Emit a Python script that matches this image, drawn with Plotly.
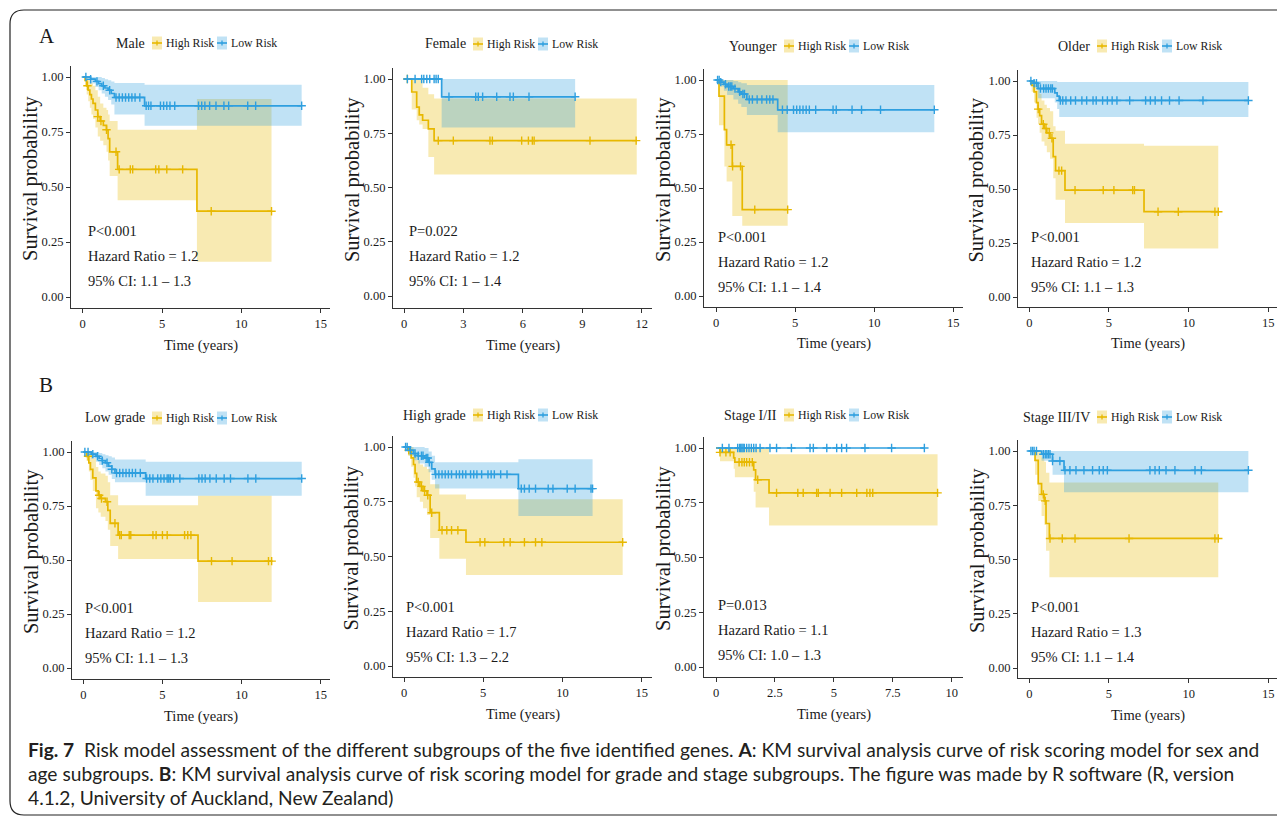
import numpy as np
import plotly.graph_objects as go

# ------------------------------------------------------------------ data
# Each KM curve: step times, survival after each step, CI upper/lower, end time, censor times
male_high_time = [0, 0.15, 0.25, 0.35, 0.45, 0.55, 0.65, 0.8, 0.95, 1.1, 1.3, 1.5, 1.6, 1.7, 2.2, 7.2]
male_high_surv = [1.0, 0.985, 0.96, 0.94, 0.92, 0.90, 0.88, 0.85, 0.82, 0.80, 0.78, 0.76, 0.72, 0.66, 0.58, 0.39]
male_high_upper = [1.0, 1.0, 1.0, 0.99, 0.98, 0.97, 0.96, 0.94, 0.91, 0.88, 0.86, 0.85, 0.83, 0.80, 0.76, 0.90]
male_high_lower = [1.0, 0.96, 0.92, 0.89, 0.86, 0.83, 0.81, 0.77, 0.73, 0.71, 0.69, 0.66, 0.62, 0.55, 0.44, 0.16]
male_high_end = 11.9
male_high_cens = [0.3, 0.95, 1.15, 1.5, 2.1, 2.3, 3.0, 3.15, 4.6, 4.8, 5.3, 6.3, 8.1, 11.9]

male_low_time = [0, 0.5, 0.8, 1.0, 1.2, 1.4, 1.6, 1.8, 2.0, 3.9]
male_low_surv = [1.0, 0.99, 0.98, 0.97, 0.96, 0.95, 0.94, 0.925, 0.907, 0.869]
male_low_upper = [1.0, 1.0, 1.0, 1.0, 0.995, 0.99, 0.985, 0.98, 0.973, 0.965]
male_low_lower = [1.0, 0.97, 0.955, 0.94, 0.925, 0.91, 0.895, 0.875, 0.83, 0.778]
male_low_end = 13.8
male_low_cens = [0.2, 0.5, 0.9, 1.3, 1.7, 2.1, 2.3, 2.5, 2.7, 2.9, 3.1, 3.3, 3.6, 4.0, 4.15, 4.3,
                 4.9, 5.1, 5.3, 5.5, 5.8, 7.3, 7.5, 7.7, 8.0, 8.4, 8.9, 9.2, 10.4, 10.9, 13.8]

female_high_time = [0, 0.39, 0.64, 0.77, 0.94, 1.23, 1.52]
female_high_surv = [1.0, 0.94, 0.87, 0.835, 0.81, 0.77, 0.716]
female_high_upper = [1.0, 1.0, 1.0, 1.0, 0.96, 0.93, 0.91]
female_high_lower = [1.0, 0.86, 0.81, 0.79, 0.77, 0.64, 0.56]
female_high_end = 11.75
female_high_cens = [0.17, 1.73, 2.49, 4.34, 4.46, 5.94, 6.28, 6.48, 6.57, 9.39, 11.72]

female_low_time = [0, 1.9]
female_low_surv = [1.0, 0.918]
female_low_upper = [1.0, 1.0]
female_low_lower = [1.0, 0.776]
female_low_end = 8.64
female_low_cens = [0.17, 0.56, 0.89, 1.0, 1.15, 1.3, 1.52, 1.62, 1.73, 2.27, 3.62, 3.75, 3.97,
                   4.68, 5.35, 5.52, 6.31, 8.64]

young_high_time = [0, 0.19, 0.53, 0.67, 1.03, 1.66]
young_high_surv = [1.0, 0.925, 0.77, 0.70, 0.60, 0.40]
young_high_upper = [1.0, 1.0, 1.0, 1.0, 1.0, 1.0]
young_high_lower = [1.0, 0.79, 0.60, 0.53, 0.37, 0.325]
young_high_end = 4.53
young_high_cens = [0.95, 1.05, 1.55, 2.45, 4.53]

young_low_time = [0, 0.3, 0.5, 0.7, 1.1, 1.4, 1.6, 1.95, 3.9]
young_low_surv = [1.0, 0.99, 0.98, 0.97, 0.96, 0.945, 0.935, 0.91, 0.862]
young_low_upper = [1.0, 1.0, 1.0, 1.0, 0.995, 0.99, 0.985, 0.977, 0.977]
young_low_lower = [1.0, 0.97, 0.95, 0.93, 0.91, 0.89, 0.875, 0.838, 0.758]
young_low_end = 13.8
young_low_cens = [0.1, 0.2, 0.3, 0.6, 0.8, 0.9, 1.0, 1.2, 1.5, 1.7, 1.8, 2.1, 2.3, 2.6, 2.9, 3.2,
                  3.4, 3.6, 4.2, 4.5, 4.9, 5.1, 5.3, 5.5, 5.7, 5.9, 6.3, 7.4, 7.6, 8.6, 9.2, 10.4, 13.8]

old_high_time = [0, 0.15, 0.3, 0.45, 0.55, 0.65, 0.77, 0.95, 1.1, 1.3, 1.5, 1.65, 2.24, 7.2]
old_high_surv = [1.0, 0.98, 0.95, 0.90, 0.87, 0.84, 0.80, 0.78, 0.76, 0.735, 0.65, 0.585, 0.495, 0.395]
old_high_upper = [1.0, 1.0, 1.0, 0.98, 0.96, 0.94, 0.91, 0.89, 0.875, 0.86, 0.79, 0.77, 0.71, 0.70]
old_high_lower = [1.0, 0.95, 0.90, 0.83, 0.80, 0.76, 0.72, 0.70, 0.67, 0.64, 0.55, 0.45, 0.343, 0.224]
old_high_end = 11.86
old_high_cens = [0.56, 0.88, 1.05, 1.25, 1.42, 1.86, 2.03, 2.87, 4.64, 5.31, 6.49, 6.6, 8.08, 9.35,
                 11.65, 11.86]

old_low_time = [0, 0.25, 0.55, 1.6, 1.75, 1.88]
old_low_surv = [1.0, 0.99, 0.965, 0.945, 0.93, 0.91]
old_low_upper = [1.0, 1.0, 1.0, 1.0, 0.995, 0.995]
old_low_lower = [1.0, 0.97, 0.92, 0.90, 0.87, 0.833]
old_low_end = 13.75
old_low_cens = [0.1, 0.3, 0.45, 0.7, 0.9, 1.05, 1.2, 1.35, 1.45, 1.95, 2.1, 2.3, 2.6, 2.9, 3.3,
                3.6, 4.0, 4.2, 4.6, 4.9, 5.2, 5.5, 6.3, 7.3, 7.6, 7.9, 8.3, 8.8, 9.4, 10.9, 13.75]

lowg_high_time = [0, 0.2, 0.35, 0.45, 0.6, 0.8, 0.95, 1.1, 1.4, 1.55, 1.7, 2.2, 7.25]
lowg_high_surv = [1.0, 0.98, 0.95, 0.92, 0.88, 0.82, 0.80, 0.785, 0.77, 0.73, 0.67, 0.615, 0.495]
lowg_high_upper = [1.0, 1.0, 1.0, 0.99, 0.97, 0.93, 0.91, 0.90, 0.89, 0.86, 0.80, 0.753, 0.798]
lowg_high_lower = [1.0, 0.96, 0.91, 0.87, 0.82, 0.74, 0.72, 0.70, 0.68, 0.64, 0.565, 0.505, 0.305]
lowg_high_end = 11.9
lowg_high_cens = [0.3, 1.0, 1.15, 1.5, 2.0, 2.3, 2.4, 2.9, 3.0, 4.4, 4.6, 5.0, 5.3, 6.4, 6.6, 6.8,
                  8.1, 9.4, 11.7, 11.9]

lowg_low_time = [0, 0.5, 0.8, 1.0, 1.2, 1.4, 1.6, 1.8, 2.0, 3.94]
lowg_low_surv = [1.0, 0.99, 0.98, 0.97, 0.96, 0.95, 0.935, 0.92, 0.903, 0.877]
lowg_low_upper = [1.0, 1.0, 1.0, 0.995, 0.99, 0.985, 0.98, 0.975, 0.965, 0.955]
lowg_low_lower = [1.0, 0.97, 0.955, 0.94, 0.925, 0.91, 0.895, 0.875, 0.86, 0.798]
lowg_low_end = 13.8
lowg_low_cens = [0.1, 0.3, 0.6, 0.9, 1.2, 1.5, 1.8, 2.1, 2.3, 2.5, 2.7, 2.9, 3.1, 3.3, 3.6, 4.0,
                 4.2, 4.4, 4.7, 4.9, 5.1, 5.3, 5.4, 5.5, 5.7, 6.1, 7.3, 7.5, 7.7, 8.0, 8.4, 8.9,
                 9.3, 10.4, 10.9, 13.8]

highg_high_time = [0, 0.25, 0.45, 0.6, 0.7, 0.8, 1.0, 1.2, 1.45, 1.65, 2.23, 3.91]
highg_high_surv = [1.0, 0.985, 0.95, 0.92, 0.88, 0.84, 0.82, 0.80, 0.78, 0.70, 0.62, 0.565]
highg_high_upper = [1.0, 1.0, 1.0, 0.99, 0.97, 0.94, 0.92, 0.91, 0.90, 0.83, 0.783, 0.761]
highg_high_lower = [1.0, 0.96, 0.91, 0.86, 0.82, 0.77, 0.75, 0.72, 0.69, 0.585, 0.49, 0.415]
highg_high_end = 13.8
highg_high_cens = [0.3, 0.9, 1.1, 1.3, 1.5, 1.75, 2.4, 2.7, 3.0, 3.4, 4.8, 5.1, 6.3, 6.7, 7.6,
                   8.3, 8.7, 13.8]

highg_low_time = [0, 0.35, 0.6, 0.9, 1.3, 1.55, 1.75, 1.96, 7.22]
highg_low_surv = [1.0, 0.985, 0.97, 0.96, 0.95, 0.93, 0.90, 0.875, 0.81]
highg_low_upper = [1.0, 1.0, 1.0, 1.0, 0.995, 0.98, 0.96, 0.93, 0.944]
highg_low_lower = [1.0, 0.96, 0.94, 0.925, 0.91, 0.885, 0.85, 0.81, 0.685]
highg_low_end = 11.9
highg_low_cens = [0.1, 0.2, 0.4, 0.7, 0.9, 1.1, 1.2, 1.4, 1.5, 1.6, 2.0, 2.2, 2.4, 2.6, 2.8, 3.0,
                  3.3, 3.5, 3.7, 3.9, 4.2, 4.4, 4.6, 4.9, 5.3, 5.5, 5.7, 6.1, 6.5, 7.4, 7.6, 7.9,
                  8.3, 9.1, 9.4, 10.3, 10.8, 11.8, 11.9]

st12_high_time = [0, 0.17, 0.75, 0.8, 1.6, 1.68, 2.25]
st12_high_surv = [1.0, 0.98, 0.955, 0.935, 0.90, 0.855, 0.795]
st12_high_upper = [1.0, 1.0, 1.0, 1.0, 1.0, 1.0, 0.972]
st12_high_lower = [1.0, 0.94, 0.905, 0.866, 0.80, 0.728, 0.646]
st12_high_end = 9.4
st12_high_cens = [0.17, 0.42, 0.6, 0.98, 1.1, 1.2, 1.3, 1.42, 1.54, 1.77, 2.57, 3.47, 3.7, 4.27,
                  4.34, 4.84, 5.33, 5.97, 6.4, 6.53, 6.65, 9.4]

st12_low_time = [0]
st12_low_surv = [1.0]
st12_low_upper = [1.0]
st12_low_lower = [1.0]
st12_low_end = 8.84
st12_low_cens = [0.27, 0.55, 0.92, 1.0, 1.05, 1.1, 1.15, 1.2, 1.3, 1.4, 1.5, 1.6, 1.7, 1.87, 2.29,
                 2.57, 3.2, 3.99, 4.13, 4.7, 5.12, 5.33, 5.54, 6.32, 7.45, 8.84]

st34_high_time = [0, 0.36, 0.56, 0.77, 0.94, 1.05, 1.26]
st34_high_surv = [1.0, 0.957, 0.85, 0.80, 0.77, 0.666, 0.597]
st34_high_upper = [1.0, 1.0, 1.0, 0.97, 0.95, 0.90, 0.855]
st34_high_lower = [1.0, 0.89, 0.77, 0.70, 0.66, 0.54, 0.418]
st34_high_end = 11.86
st34_high_cens = [0.88, 1.0, 1.3, 2.07, 2.87, 6.26, 11.65, 11.86]

st34_low_time = [0, 0.77, 1.46, 2.18]
st34_low_surv = [1.0, 0.985, 0.954, 0.911]
st34_low_upper = [1.0, 1.0, 1.0, 1.0]
st34_low_lower = [1.0, 0.955, 0.89, 0.81]
st34_low_end = 13.75
st34_low_cens = [0.1, 0.2, 0.3, 0.45, 0.88, 1.0, 1.1, 1.2, 1.3, 1.46, 1.92, 2.24, 2.55, 2.93, 3.43,
                 3.97, 4.39, 4.64, 4.9, 7.57, 7.89, 8.16, 8.58, 9.14, 10.4, 10.8, 13.75]

subgroups = ["Male", "Female", "Younger", "Older", "Low grade", "High grade", "Stage I/II", "Stage III/IV"]
p_values = ["P<0.001", "P=0.022", "P<0.001", "P<0.001", "P<0.001", "P<0.001", "P=0.013", "P<0.001"]
hazard_ratios = ["1.2", "1.2", "1.2", "1.2", "1.2", "1.7", "1.1", "1.3"]
ci_texts = ["1.1 – 1.3", "1 – 1.4", "1.1 – 1.4", "1.1 – 1.3", "1.1 – 1.3", "1.3 – 2.2", "1.0 – 1.3", "1.1 – 1.4"]
x_tickvals = [[0, 5, 10, 15], [0, 3, 6, 9, 12], [0, 5, 10, 15], [0, 5, 10, 15],
              [0, 5, 10, 15], [0, 5, 10, 15], [0, 2.5, 5, 7.5, 10], [0, 5, 10, 15]]
x_ticktext = [["0", "5", "10", "15"], ["0", "3", "6", "9", "12"], ["0", "5", "10", "15"],
              ["0", "5", "10", "15"], ["0", "5", "10", "15"], ["0", "5", "10", "15"],
              ["0", "2.5", "5", "7.5", "10"], ["0", "5", "10", "15"]]
y_tickvals = [0, 0.25, 0.5, 0.75, 1.0]
y_ticktext = ["0.00", "0.25", "0.50", "0.75", "1.00"]
group_names = ["High Risk", "Low Risk"]

curves = [
    [(male_high_time, male_high_surv, male_high_upper, male_high_lower, male_high_end, male_high_cens),
     (male_low_time, male_low_surv, male_low_upper, male_low_lower, male_low_end, male_low_cens)],
    [(female_high_time, female_high_surv, female_high_upper, female_high_lower, female_high_end, female_high_cens),
     (female_low_time, female_low_surv, female_low_upper, female_low_lower, female_low_end, female_low_cens)],
    [(young_high_time, young_high_surv, young_high_upper, young_high_lower, young_high_end, young_high_cens),
     (young_low_time, young_low_surv, young_low_upper, young_low_lower, young_low_end, young_low_cens)],
    [(old_high_time, old_high_surv, old_high_upper, old_high_lower, old_high_end, old_high_cens),
     (old_low_time, old_low_surv, old_low_upper, old_low_lower, old_low_end, old_low_cens)],
    [(lowg_high_time, lowg_high_surv, lowg_high_upper, lowg_high_lower, lowg_high_end, lowg_high_cens),
     (lowg_low_time, lowg_low_surv, lowg_low_upper, lowg_low_lower, lowg_low_end, lowg_low_cens)],
    [(highg_high_time, highg_high_surv, highg_high_upper, highg_high_lower, highg_high_end, highg_high_cens),
     (highg_low_time, highg_low_surv, highg_low_upper, highg_low_lower, highg_low_end, highg_low_cens)],
    [(st12_high_time, st12_high_surv, st12_high_upper, st12_high_lower, st12_high_end, st12_high_cens),
     (st12_low_time, st12_low_surv, st12_low_upper, st12_low_lower, st12_low_end, st12_low_cens)],
    [(st34_high_time, st34_high_surv, st34_high_upper, st34_high_lower, st34_high_end, st34_high_cens),
     (st34_low_time, st34_low_surv, st34_low_upper, st34_low_lower, st34_low_end, st34_low_cens)],
]

# ------------------------------------------------------------------ layout / style
W, H = 1285, 822
OFF = 8  # the page body margin shifts the figure by 8 px; positions below are window pixels
LINE_COLORS = ["#E7B800", "#2E9FDF"]
BAND_COLORS = ["rgba(231,184,0,0.30)", "rgba(46,159,223,0.30)"]
SERIF = "Liberation Serif"
AXIS_COLOR = "#333333"
TEXT_COLOR = "#1a1a1a"

# left px, right px, px of x=0, px of x=xt, xt, px of y=1, px of y=0, bottom px
PANEL_BOX = [
    (71, 330, 82.7, 320.7, 15, 77, 297, 308),
    (393, 652, 404, 641.7, 12, 79, 296, 308),
    (704, 963, 716, 953.3, 15, 80, 296, 307),
    (1018, 1278, 1029.3, 1268.3, 15, 81, 297, 307),
    (72, 330, 83.3, 320.7, 15, 452, 668, 679),
    (393, 652, 404, 641.7, 15, 447, 666, 677),
    (704, 963, 716, 951.7, 10, 448, 667, 677),
    (1018, 1278, 1029.3, 1268.3, 15, 451, 668, 678),
]
LEGEND_POS = [(152, 43), (473, 44), (784, 46), (1097, 46), (152, 418), (473, 415), (784, 415), (1097, 417)]
STAT_POS = [(86, 231), (407, 231), (716, 237), (1029, 237), (83, 608), (404, 607), (716, 605), (1029, 607)]


def PX(x):
    return (x - OFF) / W


def PY(y):
    return 1 - (y - OFF) / H


fig = go.Figure()
annotations = []
shapes = []

for i, box in enumerate(PANEL_BOX):
    left, right, x0px, xtpx, xt, y1px, y0px, bottom = box
    sx = (xtpx - x0px) / xt
    sy = (y0px - y1px)
    top = y1px - 0.05 * sy
    xr = [(left - x0px) / sx, (right - x0px) / sx]
    yr = [(y0px - bottom) / sy, 1.05]
    sfx = "" if i == 0 else str(i + 1)
    xaxis_id, yaxis_id = "x" + sfx, "y" + sfx

    axis_common = dict(showgrid=False, zeroline=False, showline=True, linecolor=AXIS_COLOR,
                       linewidth=1.2, ticks="outside", ticklen=4, tickwidth=1, tickcolor=AXIS_COLOR,
                       tickfont=dict(family=SERIF, size=12.5, color=TEXT_COLOR), fixedrange=True)
    fig.update_layout(**{
        "xaxis" + sfx: dict(domain=[PX(left), PX(right)], range=xr, anchor=yaxis_id,
                            tickmode="array", tickvals=x_tickvals[i], ticktext=x_ticktext[i],
                            **axis_common),
        "yaxis" + sfx: dict(domain=[PY(bottom), PY(top)], range=yr, anchor=xaxis_id,
                            tickmode="array", tickvals=y_tickvals, ticktext=y_ticktext,
                            **axis_common),
    })

    # confidence bands first
    for g, (t, s, hi, lo, end, cens) in enumerate(curves[i]):
        xs = list(t) + [end]
        fig.add_trace(go.Scatter(x=xs, y=list(hi) + [hi[-1]], mode="lines", line=dict(width=0, shape="hv"),
                                 xaxis=xaxis_id, yaxis=yaxis_id, showlegend=False, hoverinfo="skip"))
        fig.add_trace(go.Scatter(x=xs, y=list(lo) + [lo[-1]], mode="lines", line=dict(width=0, shape="hv"),
                                 fill="tonexty", fillcolor=BAND_COLORS[g],
                                 xaxis=xaxis_id, yaxis=yaxis_id, showlegend=False, hoverinfo="skip"))
    # survival curves + censor marks
    for g, (t, s, hi, lo, end, cens) in enumerate(curves[i]):
        xs = list(t) + [end]
        fig.add_trace(go.Scatter(x=xs, y=list(s) + [s[-1]], mode="lines",
                                 line=dict(width=1.7, color=LINE_COLORS[g], shape="hv"),
                                 name=group_names[g], xaxis=xaxis_id, yaxis=yaxis_id, showlegend=False))
        tt = np.array(t, dtype=float)
        ss = np.array(s, dtype=float)
        idx = np.searchsorted(tt, np.array(cens, dtype=float), side="right") - 1
        fig.add_trace(go.Scatter(x=cens, y=ss[idx], mode="markers",
                                 marker=dict(symbol="cross-thin", size=6, color=LINE_COLORS[g],
                                             line=dict(width=1.4, color=LINE_COLORS[g])),
                                 xaxis=xaxis_id, yaxis=yaxis_id, showlegend=False, hoverinfo="skip"))

    # axis titles
    annotations.append(dict(x=PX((left + right) / 2), y=PY(bottom + 37), xref="paper", yref="paper",
                            text="Time (years)", showarrow=False, xanchor="center", yanchor="middle",
                            font=dict(family=SERIF, size=14.5, color=TEXT_COLOR)))
    annotations.append(dict(x=PX(left - 41), y=PY((top + bottom) / 2 - 8), xref="paper", yref="paper",
                            text="Survival probability", textangle=-90, showarrow=False,
                            xanchor="center", yanchor="middle",
                            font=dict(family=SERIF, size=20.5, color=TEXT_COLOR)))

    # statistics text
    sx_px, sy_px = STAT_POS[i]
    for k, txt in enumerate([p_values[i], "Hazard Ratio = " + hazard_ratios[i], "95% CI: " + ci_texts[i]]):
        annotations.append(dict(x=PX(sx_px), y=PY(sy_px + 25 * k), xref="paper", yref="paper", text=txt,
                                showarrow=False, xanchor="left", yanchor="middle",
                                font=dict(family=SERIF, size=14.5, color=TEXT_COLOR)))

    # legend (title + two keys)
    k1, ly = LEGEND_POS[i]
    annotations.append(dict(x=PX(k1 - 5), y=PY(ly), xref="paper", yref="paper", text=subgroups[i],
                            showarrow=False, xanchor="right", yanchor="middle",
                            font=dict(family=SERIF, size=14, color=TEXT_COLOR)))
    for g in range(2):
        kx = k1 + 65 * g
        shapes.append(dict(type="rect", xref="paper", yref="paper", x0=PX(kx), x1=PX(kx + 10),
                           y0=PY(ly + 6.5), y1=PY(ly - 6.5), fillcolor=BAND_COLORS[g], line=dict(width=0)))
        shapes.append(dict(type="line", xref="paper", yref="paper", x0=PX(kx), x1=PX(kx + 10),
                           y0=PY(ly), y1=PY(ly), line=dict(color=LINE_COLORS[g], width=1.6)))
        shapes.append(dict(type="line", xref="paper", yref="paper", x0=PX(kx + 5), x1=PX(kx + 5),
                           y0=PY(ly - 2.5), y1=PY(ly + 2.5), line=dict(color=LINE_COLORS[g], width=1.3)))
        annotations.append(dict(x=PX(kx + 12), y=PY(ly), xref="paper", yref="paper", text=group_names[g],
                                showarrow=False, xanchor="left", yanchor="middle",
                                font=dict(family=SERIF, size=11.8, color=TEXT_COLOR)))

# panel letters
for letter, (lx, lyy) in zip(["A", "B"], [(37, 36), (37, 385)]):
    annotations.append(dict(x=PX(lx), y=PY(lyy), xref="paper", yref="paper", text=letter, showarrow=False,
                            xanchor="left", yanchor="middle", font=dict(family=SERIF, size=21, color=TEXT_COLOR)))

# caption
caption_lines = [
    "<b>Fig. 7</b>  Risk model assessment of the different subgroups of the five identified genes. "
    "<b>A</b>: KM survival analysis curve of risk scoring model for sex and",
    "age subgroups. <b>B</b>: KM survival analysis curve of risk scoring model for grade and stage "
    "subgroups. The figure was made by R software (R, version",
    "4.1.2, University of Auckland, New Zealand)",
]
for k, line in enumerate(caption_lines):
    annotations.append(dict(x=PX(26), y=PY(749 + 24 * k), xref="paper", yref="paper", text=line,
                            showarrow=False, xanchor="left", yanchor="middle",
                            font=dict(family="Lato", size=19.2, color="#231f20")))

# rounded frame
r = 14
frame = (f"M {PX(1300)},{PY(815)} L {PX(10 + r)},{PY(815)} Q {PX(10)},{PY(815)} {PX(10)},{PY(815 - r)} "
         f"L {PX(10)},{PY(10 + r)} Q {PX(10)},{PY(10)} {PX(10 + r)},{PY(10)} L {PX(1300)},{PY(10)}")
shapes.append(dict(type="path", xref="paper", yref="paper", path=frame, line=dict(color="#222222", width=1.2)))

fig.update_layout(width=W, height=H, autosize=False, margin=dict(l=0, r=0, t=0, b=0),
                  paper_bgcolor="white", plot_bgcolor="white", showlegend=False,
                  annotations=annotations, shapes=shapes)

fig.write_html("out.html", config={"displayModeBar": False})
